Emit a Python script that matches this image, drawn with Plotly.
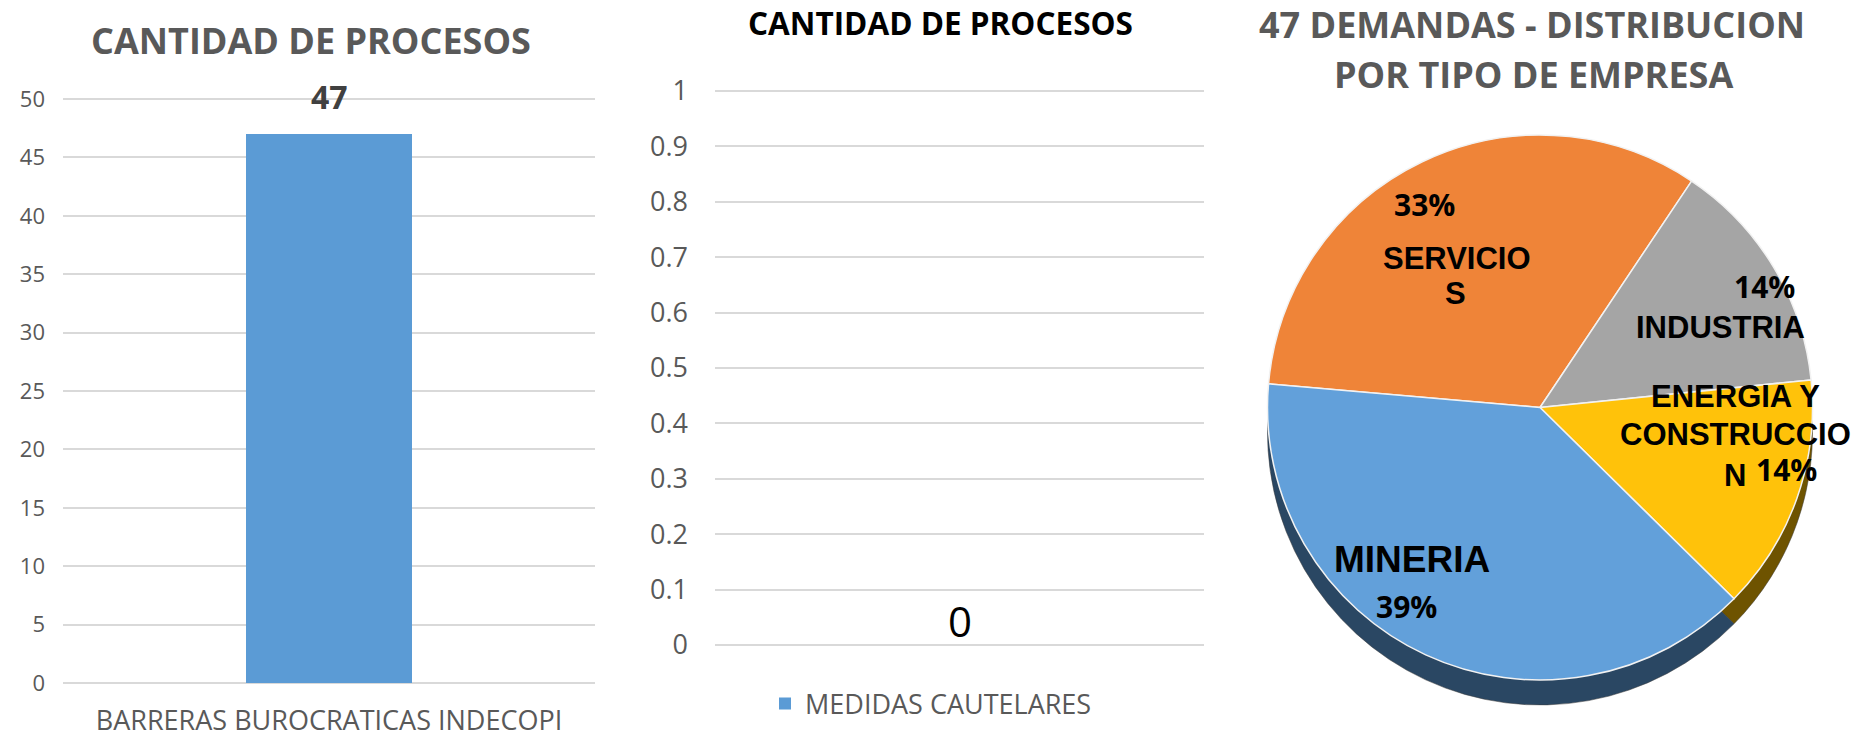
import plotly.graph_objects as go

W, H = 1863, 740

# ---------------- data ----------------
bar1_categories = ["BARRERAS BUROCRATICAS INDECOPI"]
bar1_values = [47]

bar2_categories = ["MEDIDAS CAUTELARES"]
bar2_values = [0]

pie_labels = ["SERVICIOS", "INDUSTRIA", "ENERGIA Y CONSTRUCCION", "MINERIA"]
pie_values = [33, 14, 14, 39]
pie_label_lines = [["SERVICIO", "S"], ["INDUSTRIA"], ["ENERGIA Y", "CONSTRUCCIO", "N"], ["MINERIA"]]

titles = ["CANTIDAD DE PROCESOS", "CANTIDAD DE PROCESOS",
          "47 DEMANDAS - DISTRIBUCION", "POR TIPO DE EMPRESA"]

# ---------------- styles ----------------
BLUE = "#5B9BD5"
GRID = "#D9D9D9"
TXT = "#595959"
pie_colors = ["#EF8438", "#A5A5A5", "#FFC20A", "#62A0DA"]
rim_colors = ["#8A4516", "#5F5F5F", "#6E5300", "#2A4763"]


def fx(x):
    return x / W


def fy(y):
    return 1 - y / H


fig = go.Figure()

# chart 1 bar
fig.add_trace(go.Bar(x=bar1_categories, y=bar1_values, marker=dict(color=BLUE, line=dict(width=0)),
                     width=0.312, xaxis="x", yaxis="y", showlegend=False, hoverinfo="skip"))
# chart 2 bar
fig.add_trace(go.Bar(x=bar2_categories, y=bar2_values, marker=dict(color=BLUE, line=dict(width=0)),
                     width=0.312, name=bar2_categories[0], xaxis="x2", yaxis="y2",
                     showlegend=True, hoverinfo="skip"))

# pie rim (3D edge) and pie face
rot = -85
fig.add_trace(go.Pie(labels=pie_labels, values=pie_values, sort=False, direction="clockwise",
                     rotation=rot, marker=dict(colors=rim_colors, line=dict(color="#3a3a3a", width=0.5)),
                     textinfo="none", showlegend=False, hoverinfo="skip",
                     domain=dict(x=[fx(1240), fx(1840)], y=[fy(705), fy(160)])))
fig.add_trace(go.Pie(labels=pie_labels, values=pie_values, sort=False, direction="clockwise",
                     rotation=rot, marker=dict(colors=pie_colors, line=dict(color="#F2F2F2", width=1.5)),
                     textinfo="none", showlegend=False, hoverinfo="skip",
                     domain=dict(x=[fx(1240), fx(1840)], y=[fy(680), fy(135)])))

annotations = []
# titles
annotations.append(dict(text=titles[0], x=fx(311), y=fy(40), xref="paper", yref="paper",
                        showarrow=False, xanchor="center", yanchor="middle",
                        font=dict(family="Open Sans", size=36, color=TXT, weight="bold")))
annotations.append(dict(text=titles[1], x=fx(940), y=fy(22), xref="paper", yref="paper",
                        showarrow=False, xanchor="center", yanchor="middle",
                        font=dict(family="Open Sans", size=31.5, color="#000000", weight="bold")))
annotations.append(dict(text=titles[2], x=fx(1532), y=fy(24), xref="paper", yref="paper",
                        showarrow=False, xanchor="center", yanchor="middle",
                        font=dict(family="Open Sans", size=36, color=TXT, weight="bold")))
annotations.append(dict(text=titles[3], x=fx(1533), y=fy(75), xref="paper", yref="paper",
                        showarrow=False, xanchor="center", yanchor="middle",
                        font=dict(family="Open Sans", size=36, color=TXT, weight="bold")))

# data labels on bars (anchored to data)
annotations.append(dict(text=str(bar1_values[0]), x=bar1_categories[0], y=bar1_values[0],
                        xref="x", yref="y", showarrow=False, yanchor="bottom", yshift=14,
                        font=dict(family="Open Sans", size=32, color="#404040", weight="bold")))
annotations.append(dict(text=str(bar2_values[0]), x=bar2_categories[0], y=bar2_values[0],
                        xref="x2", yref="y2", showarrow=False, yanchor="bottom", yshift=-6,
                        font=dict(family="Open Sans", size=42, color="#000000")))

# pie labels: one annotation per text line (pixel centres)
line_pos = [[(1457, 258), (1455, 294)],
            [(1720, 327)],
            [(1735, 396), (1735, 434), (1735, 475)],
            [(1412, 559)]]
pct_pos = [(1424, 204), (1764, 287), (1786, 470), (1406, 606)]
label_sizes = [31, 31, 31, 37]
for i in range(len(pie_labels)):
    for txt, (lx, ly) in zip(pie_label_lines[i], line_pos[i]):
        annotations.append(dict(text=txt, x=fx(lx), y=fy(ly), xref="paper", yref="paper",
                                showarrow=False, xanchor="center", yanchor="middle", borderpad=0,
                                font=dict(family="Liberation Sans", size=label_sizes[i],
                                          color="#000000", weight="bold")))
    px_, py_ = pct_pos[i]
    annotations.append(dict(text=f"{pie_values[i]}%", x=fx(px_), y=fy(py_), xref="paper", yref="paper",
                            showarrow=False, xanchor="center", yanchor="middle", borderpad=0,
                            font=dict(family="Open Sans", size=30, color="#000000", weight="bold")))

# axis geometry (pixel positions of value 0 and top value)
y1_lo, y1_hi, y1_pad = 683, 99, 0.25
y1_ppu = (y1_lo - y1_hi) / 50.0
y2_lo, y2_hi, y2_pad = 645, 91, 0.005
y2_ppu = (y2_lo - y2_hi) / 1.0

fig.update_layout(
    width=W, height=H,
    margin=dict(l=0, r=0, t=0, b=0),
    paper_bgcolor="white", plot_bgcolor="white",
    font=dict(family="Open Sans", color=TXT),
    annotations=annotations,
    bargap=0,
    xaxis=dict(domain=[fx(63), fx(595)], showgrid=False, showline=False, zeroline=False,
               ticks="", tickfont=dict(size=27, color=TXT), ticklabelstandoff=16, automargin=False),
    yaxis=dict(domain=[fy(y1_lo + y1_pad * y1_ppu), fy(y1_hi - y1_pad * y1_ppu)],
               range=[-y1_pad, 50 + y1_pad], tick0=0, dtick=5, showgrid=True, gridcolor=GRID,
               gridwidth=2, zeroline=False, showline=False, ticks="", automargin=False,
               tickfont=dict(size=22, color=TXT), ticklabelstandoff=17),
    xaxis2=dict(domain=[fx(715), fx(1204)], showgrid=False, showline=False, zeroline=False,
                showticklabels=False, ticks="", anchor="y2", automargin=False),
    yaxis2=dict(domain=[fy(y2_lo + y2_pad * y2_ppu), fy(y2_hi - y2_pad * y2_ppu)],
                range=[-y2_pad, 1 + y2_pad], tick0=0, dtick=0.1, showgrid=True, gridcolor=GRID,
                gridwidth=2, zeroline=False, showline=False, ticks="", anchor="x2", automargin=False,
                tickfont=dict(size=27, color=TXT), ticklabelstandoff=26),
    legend=dict(orientation="h", x=fx(765), y=fy(704), xanchor="left", yanchor="middle",
                font=dict(size=27, color=TXT), bgcolor="rgba(0,0,0,0)", itemwidth=30),
)

fig.write_html("out.html", config={"displayModeBar": False},
               post_script="document.body.style.margin='0';document.body.style.overflow='hidden';")
